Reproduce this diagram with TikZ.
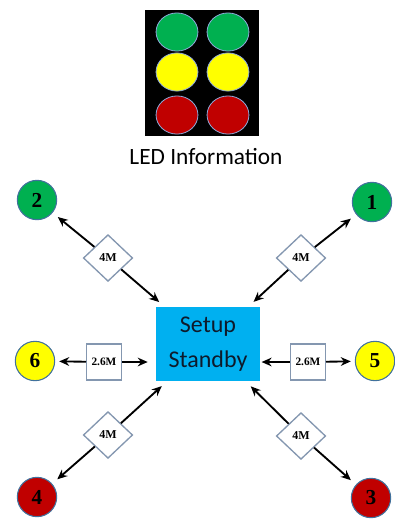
\documentclass[tikz,border=0pt]{standalone}
\usepackage{fontspec}
\setmainfont{Liberation Serif}
\newfontfamily\calibri{Carlito}
\usetikzlibrary{arrows.meta,shapes.geometric}
\definecolor{ink}{HTML}{0E1A2B}
\definecolor{rim}{HTML}{41719C}
\definecolor{edge}{HTML}{8497B0}
\definecolor{glow}{HTML}{8FAADC}
\definecolor{ledgreen}{HTML}{00B050}
\definecolor{ledyellow}{HTML}{FFFF00}
\definecolor{ledred}{HTML}{C00000}
\definecolor{panelblue}{HTML}{00B0F0}

\begin{document}
\begin{tikzpicture}[
  x=0.75pt,y=-0.75pt,
  arrow/.style={{Stealth[length=7.5pt,width=6.5pt]}-,draw=black,line width=1.4pt},
  led/.style={circle,draw=rim,line width=.8pt,minimum size=29.5pt,inner sep=0pt,
    font=\fontsize{16}{16}\selectfont\bfseries},
  meterdiam/.style={diamond,draw=edge,fill=white,line width=1pt,
    minimum width=37pt,minimum height=35pt,inner sep=0pt,
    font=\fontsize{9}{9}\selectfont\bfseries},
  meterbox/.style={draw=edge,fill=white,line width=1pt,
    minimum width=26pt,minimum height=27pt,inner sep=0pt,
    font=\fontsize{8.5}{8.5}\selectfont\bfseries}
]
  \useasboundingbox (0,0) rectangle (394,519);

  % LED legend
  \fill[black] (145,10) rectangle (259,136);
  \foreach \y/\c in {32/ledgreen,72/ledyellow,115/ledred}
    \foreach \x in {177,228}
      \draw[draw=glow,fill=\c,line width=.6pt] (\x,\y) ellipse (15.7pt and 14.3pt);
  \node[font=\calibri\fontsize{17.5}{20}\selectfont] (ledinfo) at (206,157)
    {LED Information};

  \node[fill=panelblue,minimum width=78pt,minimum height=56pt,align=center,
    text=ink,font=\calibri\fontsize{18}{26}\selectfont] (setup) at (208,344)
    {Setup\\Standby};

  \node[led,fill=ledgreen] (n1) at (372,202) {1};
  \node[led,fill=ledgreen] (n2) at (37,200) {2};
  \node[led,fill=ledred] (n3) at (371,498) {3};
  \node[led,fill=ledred] (n4) at (37,497) {4};
  \node[led,fill=ledyellow] (n5) at (375,361) {5};
  \node[led,fill=ledyellow] (n6) at (35,361) {6};

  \node[meterdiam] (d1) at (301,258) {4M};
  \node[meterdiam] (d2) at (108,258) {4M};
  \node[meterdiam] (d3) at (301,436) {4M};
  \node[meterdiam] (d4) at (108,435) {4M};
  \node[meterbox] (b5) at (308,362) {2.6M};
  \node[meterbox] (b6) at (104,362) {2.6M};

  \foreach \d/\n in {d1/n1,d2/n2,d3/n3,d4/n4}{
    \draw[arrow,shorten <=5pt] (\n) -- (\d);
    \draw[arrow,shorten <=5pt] (setup) -- (\d);
  }
  \draw[arrow,shorten <=3pt] (n5) -- (b5);
  \draw[arrow,shorten <=1pt] (b5 -| setup.east) -- (b5);
  \draw[arrow,shorten <=3pt] (n6) -- (b6);
  \draw[arrow,shorten <=6pt] (b6 -| setup.west) -- (b6);
\end{tikzpicture}
\end{document}
